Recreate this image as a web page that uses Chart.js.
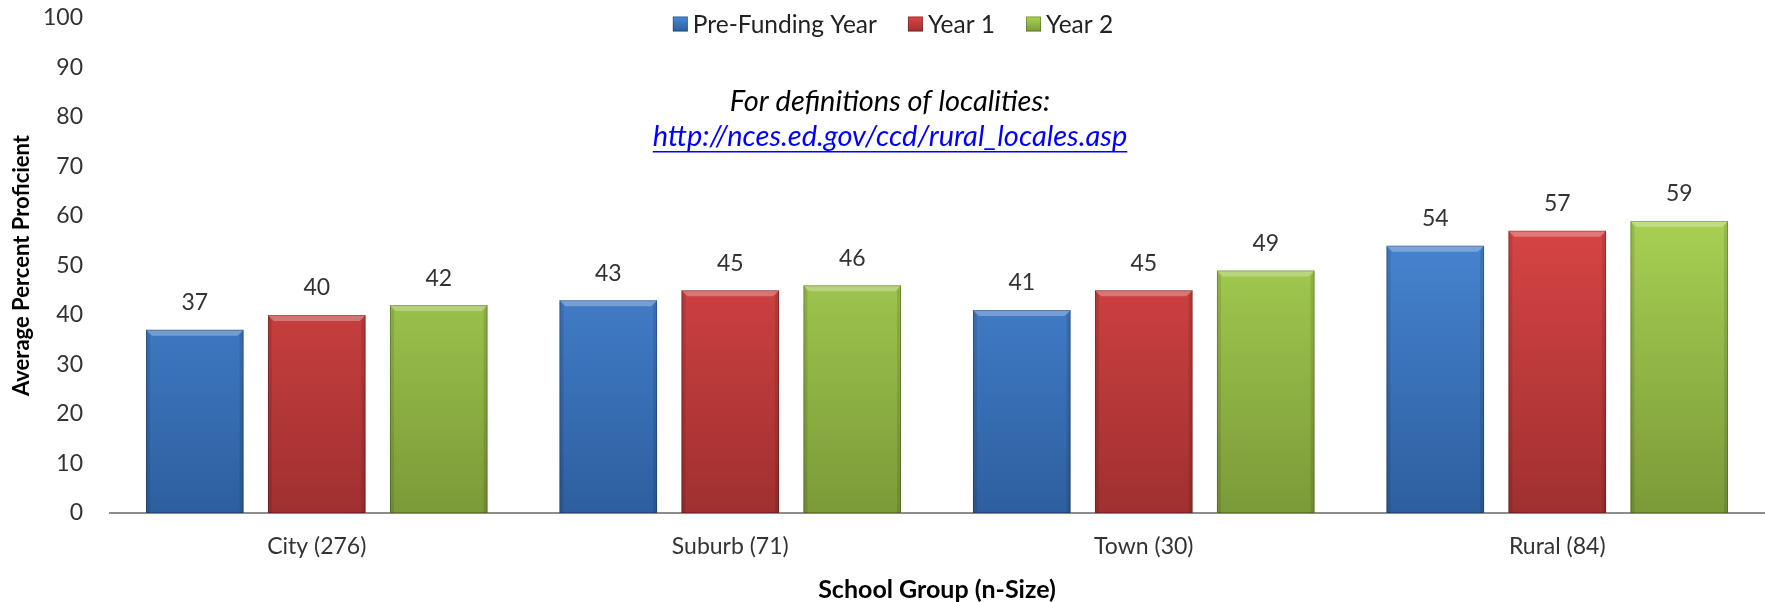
<!DOCTYPE html>
<html>
<head>
<meta charset="utf-8">
<script src="https://cdn.jsdelivr.net/npm/chart.js@4.4.0/dist/chart.umd.min.js"></script>
<style>
  html, body { margin: 0; padding: 0; background: #fff; }
  #wrap { width: 1765px; height: 602px; }
</style>
</head>
<body>
<div id="wrap"><canvas id="grafica" width="1765" height="602"></canvas></div>
<script>
// chart data
const categories = ["City (276)", "Suburb (71)", "Town (30)", "Rural (84)"];
const seriesNames = ["Pre-Funding Year", "Year 1", "Year 2"];
const preFunding = [37, 43, 41, 54];
const year1 = [40, 45, 45, 57];
const year2 = [42, 46, 49, 59];
const yTicks = [0, 10, 20, 30, 40, 50, 60, 70, 80, 90, 100];
const noteLine = "For definitions of localities:";
const noteLink = "http://nces.ed.gov/ccd/rural_locales.asp";

const FONT = "Lato, 'Open Sans', sans-serif";
const colors = [
    { top: "#4a89d8", bottom: "#2d5f9f" },
    { top: "#dd4646", bottom: "#a03030" },
    { top: "#aad455", bottom: "#7b9a38" }
];

// vertical gradient like the office bar fill
function barFill(i) {
    return function(ctx) {
        const area = ctx.chart.chartArea;
        if (!area) return colors[i].top;
        const g = ctx.chart.ctx.createLinearGradient(0, area.top + 180, 0, area.bottom);
        g.addColorStop(0, colors[i].top);
        g.addColorStop(1, colors[i].bottom);
        return g;
    };
}

// bevel edges on each bar
const bevel = {
    id: "bevel",
    afterDatasetsDraw(chart) {
        const c = chart.ctx;
        chart.data.datasets.forEach((ds, i) => {
            chart.getDatasetMeta(i).data.forEach(bar => {
                const l = bar.x - bar.width / 2, r = bar.x + bar.width / 2;
                const t = bar.y, b = bar.base, e = 6;
                c.save();
                c.fillStyle = "rgba(255,255,255,0.28)";
                c.beginPath();
                c.moveTo(l, t); c.lineTo(r, t); c.lineTo(r - e, t + e); c.lineTo(l + e, t + e);
                c.closePath(); c.fill();
                c.fillStyle = "rgba(0,0,0,0.10)";
                c.beginPath();
                c.moveTo(l, t); c.lineTo(l + 4, t + e); c.lineTo(l + 4, b); c.lineTo(l, b);
                c.closePath(); c.fill();
                c.beginPath();
                c.moveTo(r, t); c.lineTo(r - 4, t + e); c.lineTo(r - 4, b); c.lineTo(r, b);
                c.closePath(); c.fill();
                c.strokeStyle = "rgba(0,0,0,0.22)";
                c.lineWidth = 1;
                c.strokeRect(l + 0.5, t + 0.5, r - l - 1, b - t - 1);
                c.restore();
            });
        });
    }
};

// value labels above the bars
const valueLabels = {
    id: "valueLabels",
    afterDatasetsDraw(chart) {
        const c = chart.ctx;
        c.save();
        c.font = "23px " + FONT;
        c.fillStyle = "#333";
        c.textAlign = "center";
        c.textBaseline = "middle";
        chart.data.datasets.forEach((ds, i) => {
            chart.getDatasetMeta(i).data.forEach((bar, j) => {
                c.fillText(ds.data[j], bar.x, bar.y - 27);
            });
        });
        c.restore();
    }
};

// legend row and the note with the link
const header = {
    id: "header",
    afterDraw(chart) {
        const c = chart.ctx;
        c.save();
        c.font = "24.5px " + FONT;
        c.textBaseline = "middle";
        const box = 15, gap = 5, itemGap = 31;
        const widths = seriesNames.map(n => c.measureText(n).width);
        let total = widths.reduce((a, w) => a + box + gap + w, 0) + itemGap * (seriesNames.length - 1);
        let x = 893 - total / 2;
        const y = 24;
        seriesNames.forEach((n, i) => {
            const g = c.createLinearGradient(0, y - box / 2, 0, y + box / 2);
            g.addColorStop(0, colors[i].top);
            g.addColorStop(1, colors[i].bottom);
            c.fillStyle = g;
            c.fillRect(x, y - box / 2, box, box);
            c.strokeStyle = "rgba(0,0,0,0.25)";
            c.strokeRect(x + 0.5, y - box / 2 + 0.5, box - 1, box - 1);
            c.fillStyle = "#222";
            c.fillText(n, x + box + gap, y + 1);
            x += box + gap + widths[i] + itemGap;
        });

        c.textAlign = "center";
        c.font = "italic 29px " + FONT;
        c.fillStyle = "#000";
        c.fillText(noteLine, 890, 102);
        c.fillStyle = "#0000ff";
        c.fillText(noteLink, 890, 137);
        const lw = c.measureText(noteLink).width;
        c.fillRect(890 - lw / 2, 151, lw, 1.5);
        c.restore();
    }
};

new Chart(document.getElementById("grafica"), {
    type: "bar",
    data: {
        labels: categories,
        datasets: [
            { label: seriesNames[0], data: preFunding, backgroundColor: barFill(0) },
            { label: seriesNames[1], data: year1, backgroundColor: barFill(1) },
            { label: seriesNames[2], data: year2, backgroundColor: barFill(2) }
        ]
    },
    options: {
        responsive: false,
        animation: false,
        categoryPercentage: 0.885,
        barPercentage: 0.8,
        layout: { padding: { top: 18, right: 1, left: 0, bottom: 0 } },
        plugins: { legend: { display: false }, tooltip: { enabled: false } },
        scales: {
            x: {
                grid: { display: false, drawTicks: false },
                border: { display: true, color: "#8c8c8c", width: 2 },
                ticks: { font: { family: FONT, size: 23 }, color: "#333", padding: 20 },
                title: {
                    display: true, text: "School Group (n-Size)", color: "#000",
                    font: { family: FONT, size: 25, weight: "bold", lineHeight: 1 },
                    padding: 0
                },
                afterFit(s) { s.height = 89; }
            },
            y: {
                min: 0, max: 100,
                afterBuildTicks(s) { s.ticks = yTicks.map(v => ({ value: v })); },
                grid: { display: false, drawTicks: false },
                border: { display: false },
                ticks: { font: { family: FONT, size: 23 }, color: "#333", padding: 27 },
                title: {
                    display: true, text: "Average Percent Proficient", color: "#000",
                    font: { family: FONT, size: 22, weight: "bold", lineHeight: 1.2 },
                    padding: { top: 9, bottom: 0 }
                },
                afterFit(s) {
                    s.width = 110;
                    s.paddingTop = 10;
                    s.paddingBottom = 10;
                }
            }
        }
    },
    plugins: [bevel, valueLabels, header]
});
</script>
</body>
</html>
